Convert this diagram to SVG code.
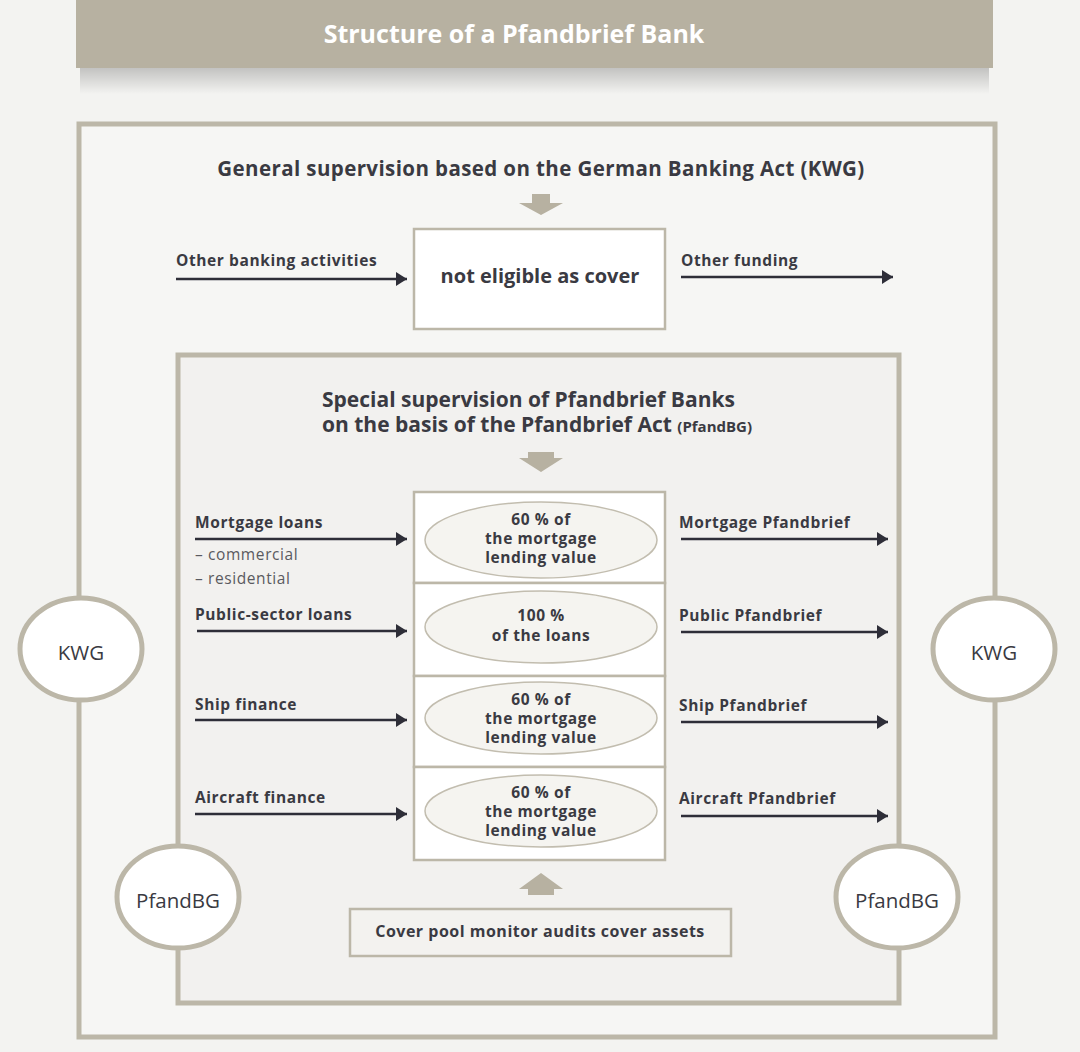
<svg xmlns="http://www.w3.org/2000/svg" width="1080" height="1052" viewBox="0 0 1080 1052">
<defs>
<style>
.bg{fill:#f3f3f1}
.box{fill:#ffffff;stroke:#bcb7a8;stroke-width:2.5}
.oval{fill:#f5f4f0;stroke:#c2bdaf;stroke-width:1.5}
.circ{fill:#ffffff;stroke:#bcb7a8;stroke-width:5}
.bigarrow{fill:#b7b1a1}
.t{font-family:"Open Sans","Liberation Sans",sans-serif;fill:#3a3a42}
.b{font-weight:700}
.lbl{font-size:15.5px;font-weight:700;letter-spacing:0.6px}
.sub{font-size:15.5px;font-weight:400;fill:#5a5a60;letter-spacing:0.6px}
.ov{font-size:15.5px;font-weight:700;text-anchor:middle;letter-spacing:0.6px}
.circt{font-size:20.5px;font-weight:400;text-anchor:middle}
.conn{stroke:#2e2e38;stroke-width:2.4;fill:none;marker-end:url(#ah)}
</style>
<marker id="ah" markerUnits="userSpaceOnUse" markerWidth="12" markerHeight="16" refX="11" refY="8" orient="auto">
<path d="M0,1 L11,8 L0,15 z" fill="#2e2e38"/>
</marker>
<linearGradient id="shadow" x1="0" y1="0" x2="0" y2="1">
<stop offset="0" stop-color="#000" stop-opacity="0.2"/>
<stop offset="1" stop-color="#000" stop-opacity="0"/>
</linearGradient>
</defs>
<rect class="bg" x="0" y="0" width="1080" height="1052"/>

<g id="title">
<rect x="80" y="68" width="909" height="26" fill="url(#shadow)"/>
<rect x="76" y="0" width="917" height="68" fill="#b7b1a1"/>
<text x="514" y="43" text-anchor="middle" font-family="'Open Sans','Liberation Sans',sans-serif" font-weight="700" font-size="25" fill="#ffffff">Structure of a Pfandbrief Bank</text>
</g>

<g id="outer-frame">
<rect x="79" y="124" width="916" height="913" fill="#f6f6f4" stroke="#bcb7a8" stroke-width="5"/>
<text class="t b" x="541" y="176" text-anchor="middle" font-size="20.5" letter-spacing="0.4">General supervision based on the German Banking Act (KWG)</text>
<path class="bigarrow" d="M532,194 H550 V203 H563 L541,215 L519,203 H532 Z"/>
</g>

<g id="not-eligible">
<rect class="box" x="414" y="229" width="251" height="100"/>
<text class="t b" x="540" y="283" text-anchor="middle" font-size="20">not eligible as cover</text>
</g>

<g id="inner-frame">
<rect x="178" y="355" width="721" height="648" fill="#f2f1ef" stroke="#bcb7a8" stroke-width="5"/>
<text class="t b" x="322" y="407" font-size="21">Special supervision of Pfandbrief Banks</text>
<text class="t b" x="322" y="432" font-size="21">on the basis of the Pfandbrief Act <tspan font-size="15">(PfandBG)</tspan></text>
<path class="bigarrow" d="M528,452 H554 V458 H563 L541,472 L519,458 H528 Z"/>
</g>

<g id="cover-mortgage">
<rect class="box" x="414" y="492" width="251" height="91"/>
<ellipse class="oval" cx="541" cy="540" rx="116" ry="38"/>
<text class="t ov" x="541" y="525">60 % of</text>
<text class="t ov" x="541" y="544">the mortgage</text>
<text class="t ov" x="541" y="563">lending value</text>
</g>
<g id="cover-public">
<rect class="box" x="414" y="583" width="251" height="93"/>
<ellipse class="oval" cx="541" cy="627" rx="116" ry="36"/>
<text class="t ov" x="541" y="621">100 %</text>
<text class="t ov" x="541" y="641">of the loans</text>
</g>
<g id="cover-ship">
<rect class="box" x="414" y="676" width="251" height="91"/>
<ellipse class="oval" cx="541" cy="718" rx="116" ry="36"/>
<text class="t ov" x="541" y="705">60 % of</text>
<text class="t ov" x="541" y="724">the mortgage</text>
<text class="t ov" x="541" y="743">lending value</text>
</g>
<g id="cover-aircraft">
<rect class="box" x="414" y="767" width="251" height="93"/>
<ellipse class="oval" cx="541" cy="811" rx="116" ry="36"/>
<text class="t ov" x="541" y="798">60 % of</text>
<text class="t ov" x="541" y="817">the mortgage</text>
<text class="t ov" x="541" y="836">lending value</text>
</g>

<g id="monitor">
<path class="bigarrow" d="M528,895 H554 V889 H563 L541,873 L519,889 H528 Z"/>
<rect x="350" y="909" width="381" height="47" fill="#f3f2ef" stroke="#bcb7a8" stroke-width="2.5"/>
<text class="t b" x="540" y="937" text-anchor="middle" font-size="16" letter-spacing="0.5">Cover pool monitor audits cover assets</text>
</g>

<g id="labels-left">
<text class="t lbl" x="176" y="266">Other banking activities</text>
<text class="t lbl" x="195" y="528">Mortgage loans</text>
<text class="t sub" x="195" y="560">– commercial</text>
<text class="t sub" x="195" y="584">– residential</text>
<text class="t lbl" x="195" y="620">Public-sector loans</text>
<text class="t lbl" x="195" y="710">Ship finance</text>
<text class="t lbl" x="195" y="803">Aircraft finance</text>
</g>
<g id="labels-right">
<text class="t lbl" x="681" y="266">Other funding</text>
<text class="t lbl" x="679" y="528">Mortgage Pfandbrief</text>
<text class="t lbl" x="679" y="621">Public Pfandbrief</text>
<text class="t lbl" x="679" y="711">Ship Pfandbrief</text>
<text class="t lbl" x="679" y="804">Aircraft Pfandbrief</text>
</g>

<g id="connectors">
<line class="conn" x1="176" y1="279" x2="407" y2="279"/>
<line class="conn" x1="681" y1="277" x2="893" y2="277"/>
<line class="conn" x1="195" y1="539" x2="407" y2="539"/>
<line class="conn" x1="197" y1="631" x2="407" y2="631"/>
<line class="conn" x1="195" y1="720" x2="407" y2="720"/>
<line class="conn" x1="195" y1="814" x2="407" y2="814"/>
<line class="conn" x1="681" y1="539" x2="888" y2="539"/>
<line class="conn" x1="681" y1="632" x2="888" y2="632"/>
<line class="conn" x1="681" y1="722" x2="888" y2="722"/>
<line class="conn" x1="681" y1="816" x2="888" y2="816"/>
</g>

<g id="kwg-left">
<ellipse class="circ" cx="81" cy="649" rx="61" ry="51"/>
<text class="t circt" x="81" y="660">KWG</text>
</g>
<g id="kwg-right">
<ellipse class="circ" cx="994" cy="649" rx="61" ry="51"/>
<text class="t circt" x="994" y="660">KWG</text>
</g>
<g id="pfandbg-left">
<ellipse class="circ" cx="178" cy="897" rx="61" ry="51"/>
<text class="t circt" x="178" y="908">PfandBG</text>
</g>
<g id="pfandbg-right">
<ellipse class="circ" cx="897" cy="897" rx="61" ry="51"/>
<text class="t circt" x="897" y="908">PfandBG</text>
</g>
</svg>
